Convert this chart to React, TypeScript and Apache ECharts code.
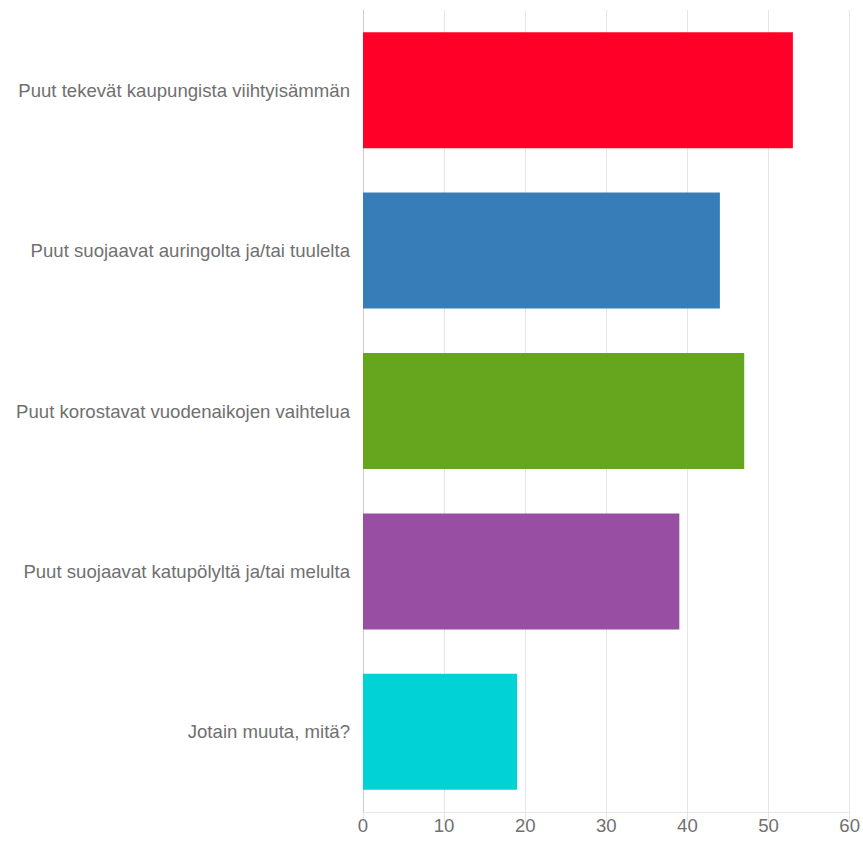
import React, { useEffect, useRef } from "react";
import * as echarts from "echarts";

const categories: string[] = [
  "Puut tekevät kaupungista viihtyisämmän",
  "Puut suojaavat auringolta ja/tai tuulelta",
  "Puut korostavat vuodenaikojen vaihtelua",
  "Puut suojaavat katupölyltä ja/tai melulta",
  "Jotain muuta, mitä?",
];
const values: number[] = [53, 44, 47, 39, 19];
const colors: string[] = ["#ff0029", "#377eb8", "#66a61e", "#984ea3", "#00d2d5"];

const FONT = "'Liberation Sans', Arial, sans-serif";

export default function App() {
  const ref = useRef<HTMLDivElement>(null);
  useEffect(() => {
    if (!ref.current) return;
    const chart = echarts.init(ref.current, null, { renderer: "svg" });
    chart.setOption({
      animation: false,
      backgroundColor: "#ffffff",
      grid: { left: 363, right: 13, top: 10, bottom: 31, containLabel: false },
      xAxis: {
        type: "value",
        min: 0,
        max: 60,
        interval: 10,
        axisLine: { show: true, lineStyle: { color: "#e6e6e6", width: 1 } },
        axisTick: { show: true, length: 10, lineStyle: { color: "#e6e6e6" } },
        splitLine: { show: true, lineStyle: { color: "#e6e6e6", width: 1 } },
        axisLabel: {
          color: "#707070",
          fontSize: 18.6,
          fontFamily: FONT,
          margin: 4,
        },
      },
      yAxis: {
        type: "category",
        data: categories,
        inverse: true,
        axisLine: { show: true, onZero: false, lineStyle: { color: "#cccccc", width: 1 } },
        axisTick: { show: false },
        splitLine: { show: false },
        axisLabel: {
          color: "#707070",
          fontSize: 18.6,
          fontFamily: FONT,
          margin: 13,
        },
      },
      series: [
        {
          type: "bar",
          data: values.map((v, i) => ({ value: v, itemStyle: { color: colors[i] } })),
          barWidth: 116,
        },
      ],
    });
    return () => chart.dispose();
  }, []);
  return (
    <div
      ref={ref}
      style={{ position: "fixed", left: 0, top: 0, width: 863, height: 843 }}
    />
  );
}
